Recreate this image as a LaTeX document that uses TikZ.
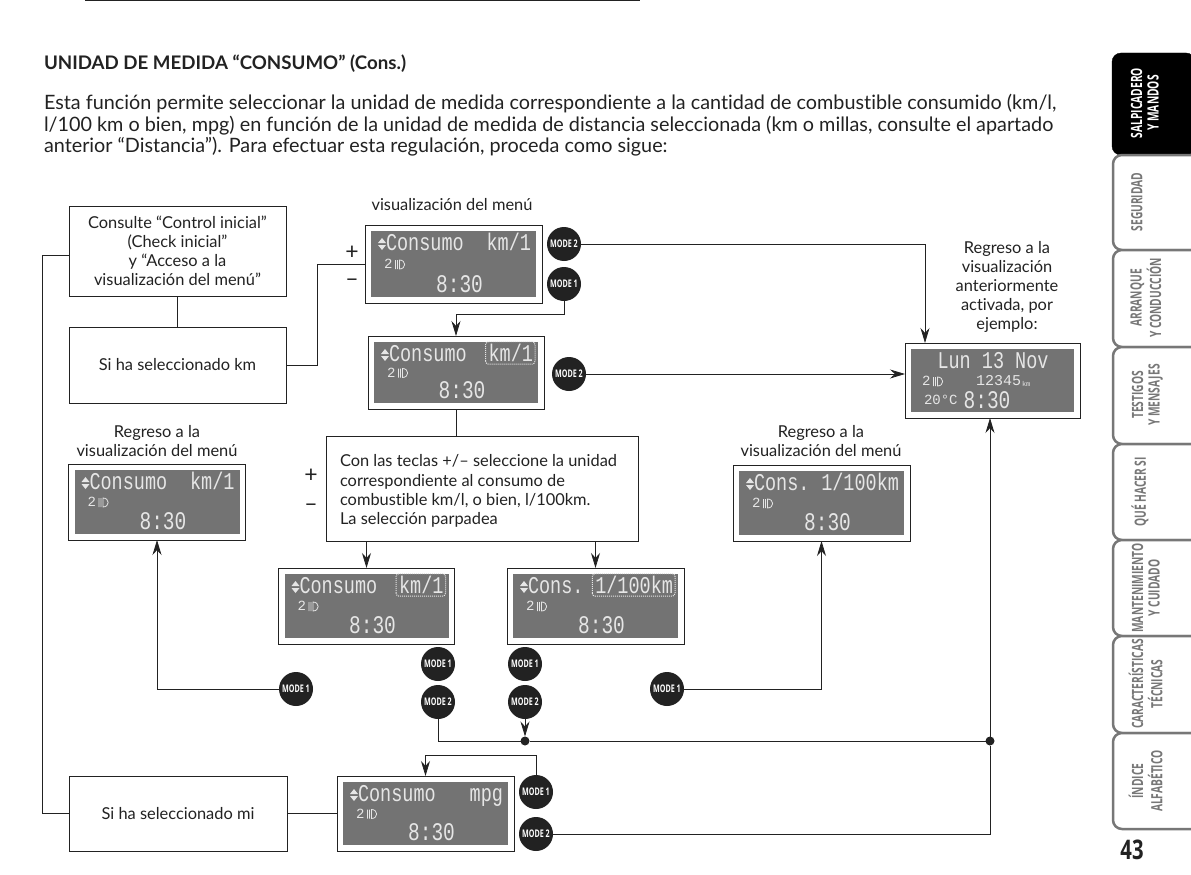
\documentclass[tikz,border=0pt]{standalone}
\usepackage{fontspec}
\setmainfont[Ligatures=NoCommon]{Lato}
\newfontfamily\lcdfont{Liberation Mono}
\newfontfamily\tabfont{Open Sans}
\usetikzlibrary{arrows.meta,calc}
\definecolor{ink}{HTML}{222222}
\definecolor{lcdbg}{HTML}{737373}
\definecolor{lcdtx}{HTML}{E6E6E6}
\definecolor{tabgr}{HTML}{777777}
\tikzset{
 x=1pt,y=-1pt,
 every node/.style={inner sep=0pt,outer sep=0pt},
 flowbox/.style={draw=ink,line width=.8pt,fill=white,align=center,font=\fontsize{16.4}{19}\selectfont,text=ink},
 lcdframe/.style={draw=ink,line width=.9pt,fill=white},
 lcdscreen/.style={fill=lcdbg},
 lcdtext/.style={text=lcdtx,font=\lcdfont\fontsize{18.5}{20}\selectfont},
 lcdsmall/.style={text=lcdtx,font=\lcdfont\fontsize{14}{16}\selectfont},
 lcdtime/.style={text=lcdtx,font=\lcdfont\fontsize{19.5}{22}\selectfont},
 conn/.style={draw=ink,line width=.8pt},
 arr/.style={conn,-{Stealth[length=15pt,width=9pt]}},
 modebtn/.style={circle,fill=ink,minimum size=34pt,text=white,font=\tabfont\bfseries\fontsize{10.5}{11}\selectfont},
 lbl/.style={align=center,text=ink,font=\fontsize{16.4}{19.2}\selectfont},
 sign/.style={text=ink,font=\fontsize{23}{24}\selectfont},
 tabshape/.style={draw=tabgr,line width=2.5pt,rounded corners=9pt,fill=white},
 tabtext/.style={rotate=90,text=tabgr,font=\tabfont\bfseries\fontsize{15.5}{16.5}\selectfont},
 jct/.style={circle,fill=ink,minimum size=9pt},
}
\newcommand{\narrow}[1]{\scalebox{.66}[1]{\begin{tabular}{@{}c@{}}#1\end{tabular}}}
\newcommand{\modetxt}[1]{\scalebox{.68}[1]{MODE #1}}
\newcommand{\tall}[1]{\scalebox{1}[1.3]{#1}}
% name, cx, cy, width, height
\newcommand{\lcdbox}[5]{%
 \node[lcdframe,minimum width=#4pt,minimum height=#5pt] (#1) at (#2,#3) {};
 \node[lcdscreen,minimum width=#4pt-12pt,minimum height=#5pt-12pt] (#1s) at (#2,#3) {};
}
% name, left text, right text : standard content of a screen
\newcommand{\lcdrows}[3]{%
 \fill[lcdtx] ($(#1s.north west)+(7,12)$) -- ++(8,0) -- ++(-4,-5) -- cycle;
 \fill[lcdtx] ($(#1s.north west)+(7,14)$) -- ++(8,0) -- ++(-4,5) -- cycle;
 \node[lcdtext,anchor=base west] (#1a) at ($(#1s.north west)+(15,19)$) {\tall{#2}};
 \node[lcdtext,anchor=base east] (#1b) at ($(#1s.north east)+(-5,19)$) {\tall{#3}};
 \node[lcdsmall,anchor=west] (#1c) at ($(#1s.west)+(13,0)$) {2};
 \draw[lcdtx,line width=.8pt] ($(#1c.east)+(3,-4)$) -- ++(0,9) ($(#1c.east)+(5,-4)$) -- ++(0,9)
   ($(#1c.east)+(7,-4)$) .. controls ($(#1c.east)+(14,-4)$) and ($(#1c.east)+(14,5)$) .. ($(#1c.east)+(7,5)$) -- cycle;
 \node[lcdtime] (#1t) at ($(#1s.south)+(6,-13)$) {\tall{8:30}};
}
\newcommand{\selmark}[1]{\draw[lcdtx,densely dotted,line width=1pt,rounded corners=3pt]
   ($(#1b.south west)+(-3,3)$) rectangle ($(#1b.north east)+(2,-2)$);}
\begin{document}
\begin{tikzpicture}
\useasboundingbox (0,0) rectangle (1191,875);
\fill[white] (0,0) rectangle (1191,875);
\draw[ink,line width=1pt] (85,0.7) -- (640,0.7);

% heading and body
\node[anchor=base west,text=ink,font=\bfseries\fontsize{18.7}{22}\selectfont] (head) at (44,70) {UNIDAD DE MEDIDA “CONSUMO” (Cons.)};
\node[anchor=base west,text=ink,font=\fontsize{19.8}{21}\selectfont] (p1) at (44,109) {Esta función permite seleccionar la unidad de medida correspondiente a la cantidad de combustible consumido (km/l,};
\node[anchor=base west,text=ink,font=\fontsize{19.8}{21}\selectfont] (p2) at (44,131) {l/100 km o bien, mpg) en función de la unidad de medida de distancia seleccionada (km o millas, consulte el apartado};
\node[anchor=base west,text=ink,font=\fontsize{19.8}{21}\selectfont] (p3) at (44,152) {anterior “Distancia”). Para efectuar esta regulación, proceda como sigue:};

% flow boxes
\node[flowbox,minimum width=217pt,minimum height=90pt] (b1) at (177.5,251) {Consulte “Control inicial”\\(Check inicial”\\y “Acceso a la\\visualización del menú”};
\node[flowbox,minimum width=217pt,minimum height=76pt] (b2) at (177.5,365) {Si ha seleccionado km};
\node[flowbox,minimum width=218pt,minimum height=75pt] (b3) at (178,813.5) {Si ha seleccionado mi};
\node[flowbox,minimum width=312pt,minimum height=105pt] (tb) at (482,488.5) {};
\node[lbl,align=left,anchor=west] (tbt) at (340,491) {Con las teclas +/– seleccione la unidad\\correspondiente al consumo de\\combustible km/l, o bien, l/100km.\\La selección parpadea};

% screens
\lcdbox{d1}{453.5}{264}{177}{78}
\lcdrows{d1}{Consumo}{km/1}
\lcdbox{d2}{456}{372.5}{176}{73}
\lcdrows{d2}{Consumo}{km/1}\selmark{d2}
\lcdbox{d3}{366.5}{606}{176}{76}
\lcdrows{d3}{Consumo}{km/1}\selmark{d3}
\lcdbox{d4}{595.5}{606}{177}{76}
\lcdrows{d4}{Cons.}{1/100km}\selmark{d4}
\lcdbox{d5}{157}{502}{177}{76}
\lcdrows{d5}{Consumo}{km/1}
\lcdbox{d6}{821.5}{503}{177}{76}
\lcdrows{d6}{Cons.}{1/100km}
\lcdbox{d7}{425.5}{813.5}{177}{75}
\lcdrows{d7}{Consumo}{mpg}
\lcdbox{d8}{992.5}{380.5}{175}{75}
\node[lcdtext] (d8a) at (993,361) {\tall{Lun 13 Nov}};
\node[lcdsmall,anchor=west] (d8c) at (922,381) {2};
\draw[lcdtx,line width=.8pt] ($(d8c.east)+(3,-4)$) -- ++(0,9) ($(d8c.east)+(5,-4)$) -- ++(0,9)
   ($(d8c.east)+(7,-4)$) .. controls ($(d8c.east)+(14,-4)$) and ($(d8c.east)+(14,5)$) .. ($(d8c.east)+(7,5)$) -- cycle;
\node[lcdsmall,font=\lcdfont\fontsize{15}{16}\selectfont,anchor=west] (d8d) at (976,381) {12345};
\node[lcdsmall,font=\lcdfont\fontsize{7}{8}\selectfont,anchor=west] (d8k) at (1022,384) {km};
\node[lcdsmall,anchor=west] (d8e) at (924,400) {20°C};
\node[lcdtime] (d8t) at (987,400) {\tall{8:30}};

% mode buttons
\node[modebtn] (m1) at (564,244) {\modetxt{2}};
\node[modebtn] (m2) at (564,284) {\modetxt{1}};
\node[modebtn] (m3) at (569,374) {\modetxt{2}};
\node[modebtn] (m4) at (438,664) {\modetxt{1}};
\node[modebtn] (m5) at (438,702) {\modetxt{2}};
\node[modebtn] (m6) at (525,664) {\modetxt{1}};
\node[modebtn] (m7) at (525,702) {\modetxt{2}};
\node[modebtn] (m8) at (296,689) {\modetxt{1}};
\node[modebtn] (m9) at (667,689) {\modetxt{1}};
\node[modebtn] (m10) at (536,792) {\modetxt{1}};
\node[modebtn] (m11) at (536,834) {\modetxt{2}};

% labels
\node[lbl] (l1) at (452,205) {visualización del menú};
\node[lbl] (l2) at (1007,287) {Regreso a la\\visualización\\anteriormente\\activada, por\\ejemplo:};
\node[lbl] (l3) at (157,441) {Regreso a la\\visualización del menú};
\node[lbl] (l4) at (821,441) {Regreso a la\\visualización del menú};
\node[sign] (s1) at (352,253) {+};
\node[sign] (s2) at (352,283) {–};
\node[sign] (s3) at (311,476) {+};
\node[sign] (s4) at (311,508) {–};

% junctions
\node[jct] (j1) at (525,741) {};
\node[jct] (j2) at (990,741) {};

% connectors
\draw[conn] (b1) -- (b2);
\draw[conn] (b1.west|-0,255) -- (42,255) |- (b3.west);
\draw[conn] (b2.east) -- (317,365) |- (d1.west);
\draw[arr] (m1.east) -| (925,343);
\draw[arr] (m2.south) |- (456,314) -- (d2.north);
\draw[arr] (m3.east) -- (m3.east-|d8.west);
\draw[conn] (d2.south) -- (tb.north-|d2.south);
\draw[arr] (d3.north|-tb.south) -- (d3.north);
\draw[arr] (d4.north|-tb.south) -- (d4.north);
\draw[arr] (m8.west) -| (d5.south);
\draw[arr] (m9.east) -| (d6.south);
\draw[conn] (m5.south) |- (j1.west);
\draw[arr] (m7.south) -- (j1.north);
\draw[conn] (j1.east) -- (j2.west);
\draw[arr] (j2.north) -- (j2|-d8.south);
\draw[conn] (m11.east) -| (j2.south);
\draw[arr] (m10.north) |- (d7.north|-0,755) -- (d7.north);
\draw[conn] (b3.east) -- (d7.west);

% side tabs
\draw[fill=black,draw=black,rounded corners=9pt] (1195,53) -- (1112,53) -- (1112,155) -- (1195,155) -- cycle;
\foreach \n/\a/\b in {2/155/250,3/250/347,4/347/444,5/444/540,6/540/636,7/636/733,8/733/829}{
 \draw[tabshape] (1195,\a) -- (1113,\a) -- (1113,\b) -- (1195,\b);
}
\node[tabtext,text=white] (t1) at (1147,103) {\narrow{SALPICADERO\\Y MANDOS}};
\node[tabtext] (t2) at (1139,202) {\narrow{SEGURIDAD}};
\node[tabtext] (t3) at (1148,298) {\narrow{ARRANQUE\\Y CONDUCCIÓN}};
\node[tabtext] (t4) at (1148,395) {\narrow{TESTIGOS\\Y MENSAJES}};
\node[tabtext] (t5) at (1141,492) {\narrow{QUÉ HACER SI}};
\node[tabtext] (t6) at (1148,588) {\narrow{MANTENIMIENTO\\Y CUIDADO}};
\node[tabtext] (t7) at (1148,684) {\narrow{CARACTERÍSTICAS\\TÉCNICAS}};
\node[tabtext] (t8) at (1148,781) {\narrow{ÍNDICE\\ALFABÉTICO}};
\node[text=ink,font=\tabfont\bfseries\fontsize{27}{28}\selectfont] (pg) at (1132,850) {\scalebox{.75}[1]{43}};
\end{tikzpicture}
\end{document}
